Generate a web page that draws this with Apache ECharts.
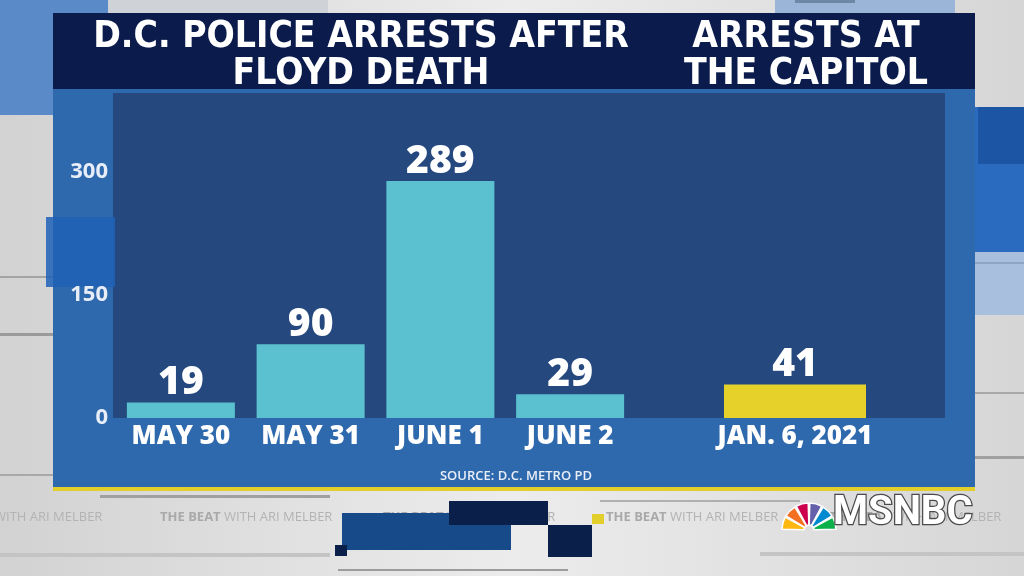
<!DOCTYPE html>
<html>
<head>
<meta charset="utf-8">
<script src="https://cdn.jsdelivr.net/npm/echarts@6/dist/echarts.min.js"></script>
<style>
  html, body { margin: 0; padding: 0; background: #dedede; }
  #main { width: 1024px; height: 576px; }
</style>
</head>
<body>
<div id="main"></div>
<script>
// chart data
const floydDates = ['MAY 30', 'MAY 31', 'JUNE 1', 'JUNE 2'];
const floydArrests = [19, 90, 289, 29];
const capitolDates = ['JAN. 6, 2021'];
const capitolArrests = [41];
const yMax = 300;
const yStep = 150;

const leftTitle = 'D.C. POLICE ARRESTS AFTER\nFLOYD DEATH';
const rightTitle = 'ARRESTS AT\nTHE CAPITOL';
const sourceText = 'SOURCE: D.C. METRO PD';
const tickerText = '{b|THE BEAT} WITH ARI MELBER';

const SANS = '"Open Sans", "Noto Sans", sans-serif';
const NARROW = '"Liberation Sans Narrow", "DejaVu Sans Condensed", "Roboto Condensed", Roboto, sans-serif';

const chart = echarts.init(document.getElementById('main'));

// background pieces (broadcast frame)
const backdrop = [
  { type: 'rect', shape: { x: 0, y: 0, width: 1024, height: 576 }, style: { fill: new echarts.graphic.LinearGradient(0, 0, 1, 0, [
    { offset: 0, color: '#d2d2d2' }, { offset: 0.5, color: '#ececec' }, { offset: 1, color: '#d6d6d6' }]) } },
  { type: 'rect', shape: { x: 0, y: 0, width: 108, height: 115 }, style: { fill: '#5a8bc8' } },
  { type: 'rect', shape: { x: 108, y: 0, width: 220, height: 14 }, style: { fill: '#cfd3d8' } },
  { type: 'rect', shape: { x: 775, y: 0, width: 180, height: 14 }, style: { fill: '#9bb5d8' } },
  { type: 'rect', shape: { x: 795, y: 0, width: 60, height: 3 }, style: { fill: '#6f87a6' } },
  { type: 'rect', shape: { x: 975, y: 107, width: 49, height: 145 }, style: { fill: '#2a6bbf' } },
  { type: 'rect', shape: { x: 978, y: 107, width: 46, height: 57 }, style: { fill: '#1b55a3' } },
  { type: 'rect', shape: { x: 975, y: 252, width: 49, height: 63 }, style: { fill: '#a8bfdd' } },
  { type: 'rect', shape: { x: 975, y: 262, width: 49, height: 2 }, style: { fill: '#8ea6c6' } },
  { type: 'rect', shape: { x: 0, y: 276, width: 53, height: 2 }, style: { fill: '#a4a4a4' } },
  { type: 'rect', shape: { x: 0, y: 333, width: 53, height: 3 }, style: { fill: '#9a9a9a' } },
  { type: 'rect', shape: { x: 0, y: 474, width: 53, height: 2 }, style: { fill: '#a8a8a8' } },
  { type: 'rect', shape: { x: 975, y: 392, width: 49, height: 2 }, style: { fill: '#a8a8a8' } },
  { type: 'rect', shape: { x: 975, y: 456, width: 49, height: 3 }, style: { fill: '#a0a0a0' } },
  { type: 'rect', shape: { x: 100, y: 495, width: 230, height: 3 }, style: { fill: '#a0a0a0' } },
  { type: 'rect', shape: { x: 600, y: 500, width: 200, height: 2 }, style: { fill: '#b0b0b0' } },
  { type: 'rect', shape: { x: 0, y: 553, width: 330, height: 4 }, style: { fill: '#c4c4c4' } },
  { type: 'rect', shape: { x: 760, y: 552, width: 264, height: 4 }, style: { fill: '#c4c4c4' } },
  { type: 'rect', shape: { x: 338, y: 569, width: 230, height: 2 }, style: { fill: '#9c9c9c' } }
];

// main panel behind the plot
const panel = [
  { type: 'rect', shape: { x: 53, y: 13, width: 922, height: 478 }, style: { fill: '#2f69ad' } },
  { type: 'rect', shape: { x: 53, y: 13, width: 922, height: 76 }, style: { fill: '#0b1c4c' } },
  { type: 'rect', shape: { x: 113, y: 93, width: 832, height: 325 }, style: { fill: '#25497f' } },
  { type: 'rect', shape: { x: 46, y: 217, width: 69, height: 70 }, style: { fill: '#1f62b6', opacity: 0.85 } },
  { type: 'rect', shape: { x: 53, y: 487, width: 922, height: 4 }, style: { fill: '#e3cf2c' } }
];

// ticker strip
const tickerX = [-70, 160, 383, 606, 829];
const ticker = tickerX.map(x => ({
  type: 'text', x: x, y: 517,
  style: {
    text: tickerText, fill: '#b3b3b3', font: '13px ' + SANS, verticalAlign: 'middle',
    rich: { b: { fontWeight: 'bold', fill: '#a9a9a9', fontSize: 13, fontFamily: SANS } }
  }
}));

const blocks = [
  { type: 'rect', shape: { x: 342, y: 513, width: 169, height: 37 }, style: { fill: '#174a88' } },
  { type: 'rect', shape: { x: 449, y: 501, width: 99, height: 24 }, style: { fill: '#0a1f4a' } },
  { type: 'rect', shape: { x: 548, y: 525, width: 44, height: 32 }, style: { fill: '#0a1f4a' } },
  { type: 'rect', shape: { x: 335, y: 545, width: 12, height: 11 }, style: { fill: '#0a1f4a' } },
  { type: 'rect', shape: { x: 592, y: 514, width: 12, height: 10 }, style: { fill: '#e3cf2c' } }
];

// peacock logo
const feathers = ['#fcb711', '#f37021', '#cc004c', '#6460aa', '#0089d0', '#0db14b'];
const peacock = feathers.map((c, i) => {
  const step = Math.PI / 6;
  const a0 = Math.PI + i * step;
  return {
    type: 'sector',
    shape: { cx: 809, cy: 530, r0: 5, r: 27, startAngle: a0 + 0.03, endAngle: a0 + step - 0.03 },
    style: { fill: c, stroke: '#ffffff', lineWidth: 1.5 }
  };
});

const texts = [
  { type: 'text', x: 361, y: 19, style: { text: leftTitle, fill: '#ffffff', font: 'bold 37px ' + NARROW, align: 'center', lineHeight: 37 } },
  { type: 'text', x: 806, y: 19, style: { text: rightTitle, fill: '#ffffff', font: 'bold 37px ' + NARROW, align: 'center', lineHeight: 37 } },
  { type: 'text', x: 516, y: 476, style: { text: sourceText, fill: '#e9eef6', font: '600 13px ' + SANS, align: 'center', verticalAlign: 'middle' } },
  { type: 'text', x: 833, y: 514, style: { text: 'MSNBC', fill: '#ffffff', font: 'bold 40px Roboto, ' + SANS, verticalAlign: 'middle', stroke: '#4a4a4a', lineWidth: 2.5 } }
];

const xLabel = { color: '#ffffff', fontFamily: SANS, fontWeight: 800, fontSize: 26, margin: 6, interval: 0, hideOverlap: false };

const option = {
  backgroundColor: '#dedede',
  animation: false,
  graphic: { elements: [].concat(backdrop, panel, ticker, blocks, peacock, texts) },
  grid: [
    { left: 116, width: 519, top: 172, height: 246 },
    { left: 710, width: 170, top: 172, height: 246 }
  ],
  xAxis: [
    {
      type: 'category', gridIndex: 0, data: floydDates,
      axisLine: { show: false }, axisTick: { show: false },
      axisLabel: xLabel
    },
    {
      type: 'category', gridIndex: 1, data: capitolDates,
      axisLine: { show: false }, axisTick: { show: false },
      axisLabel: xLabel
    }
  ],
  yAxis: [
    {
      type: 'value', gridIndex: 0, min: 0, max: yMax, interval: yStep,
      axisLine: { show: false }, axisTick: { show: false }, splitLine: { show: false },
      axisLabel: { color: '#e8eef7', fontFamily: SANS, fontWeight: 'bold', fontSize: 22, margin: 8 }
    },
    {
      type: 'value', gridIndex: 1, min: 0, max: yMax, interval: yStep,
      axisLine: { show: false }, axisTick: { show: false }, splitLine: { show: false },
      axisLabel: { show: false }
    }
  ],
  series: [
    {
      type: 'bar', xAxisIndex: 0, yAxisIndex: 0, data: floydArrests, barWidth: 108,
      itemStyle: { color: '#5bc1d1' },
      label: { show: true, position: 'top', distance: 0, color: '#ffffff', fontFamily: SANS, fontWeight: 800, fontSize: 39 }
    },
    {
      type: 'bar', xAxisIndex: 1, yAxisIndex: 1, data: capitolArrests, barWidth: 142,
      itemStyle: { color: '#e6d12a' },
      label: { show: true, position: 'top', distance: 0, color: '#ffffff', fontFamily: SANS, fontWeight: 800, fontSize: 39 }
    }
  ]
};

chart.setOption(option);
</script>
</body>
</html>
